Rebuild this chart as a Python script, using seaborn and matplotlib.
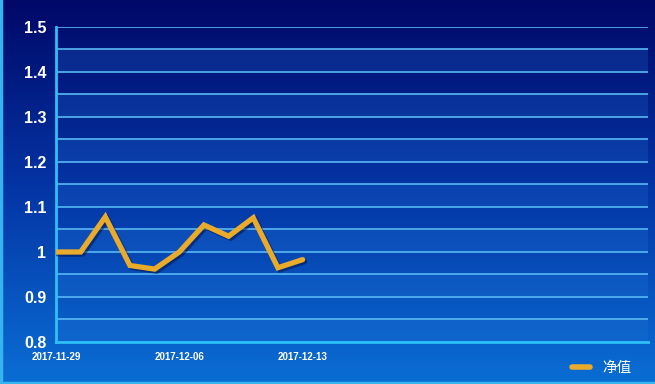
"""Net value line chart on a blue gradient"""
import numpy as np
import pandas as pd
import matplotlib
matplotlib.use("Agg")
import matplotlib.pyplot as plt
import matplotlib.patheffects as pe
from matplotlib.colors import LinearSegmentedColormap
from matplotlib.lines import Line2D
import seaborn as sns

dates = ["2017-11-29", "2017-11-30", "2017-12-01", "2017-12-04", "2017-12-05",
         "2017-12-06", "2017-12-07", "2017-12-08", "2017-12-11", "2017-12-12",
         "2017-12-13"]
net_value = [1.0, 1.0, 1.078, 0.97, 0.962, 1.0, 1.06, 1.035, 1.076, 0.965, 0.983]
series_name = "净值"
y_ticks = [0.8, 0.9, 1.0, 1.1, 1.2, 1.3, 1.4, 1.5]
y_labels = ["0.8", "0.9", "1", "1.1", "1.2", "1.3", "1.4", "1.5"]

df = pd.DataFrame({"idx": range(len(dates)), "date": dates, "value": net_value})

sns.set_style("white")
plt.rcParams["font.family"] = ["Liberation Sans", "DejaVu Sans"]

fig = plt.figure(figsize=(6.55, 3.84), dpi=100)

# gradient background for the whole figure
bg_cmap = LinearSegmentedColormap.from_list("bg", ["#000868", "#0436a6", "#0a6ed4"])
bg = fig.add_axes([0, 0, 1, 1], zorder=-10)
bg.imshow(np.linspace(0, 1, 256).reshape(-1, 1), aspect="auto", cmap=bg_cmap,
          extent=[0, 1, 0, 1], origin="upper")
bg.set_axis_off()
# light frame on left and bottom edge
fig.add_artist(Line2D([0.002, 0.002], [0, 1], color="#35b4f0", lw=2.5))
fig.add_artist(Line2D([0, 1], [0.003, 0.003], color="#35b4f0", lw=2.5))

ax = fig.add_axes([0.0855, 0.1094, 0.9035, 0.8203])
ax.patch.set_alpha(0)

# alternating bands and grid lines every 0.05
edges = np.round(np.arange(0.8, 1.5001, 0.05), 2)
for i, lo in enumerate(edges[:-1]):
    if i % 2 == 0:
        ax.axhspan(lo, lo + 0.05, color="#2a7fe0", alpha=0.2, lw=0, zorder=0)
for e in edges[1:]:
    ax.axhline(e, color="#58b8f4", lw=1.2, zorder=1)

sns.lineplot(data=df, x="idx", y="value", ax=ax, color="#eaab2a", lw=3.8,
             zorder=5, solid_capstyle="round", solid_joinstyle="miter",
             path_effects=[pe.SimpleLineShadow(offset=(1.5, -1.5), alpha=0.5,
                                               shadow_color="#001040"),
                           pe.Normal()])

ax.set_xlim(0, 24)
ax.set_ylim(0.8, 1.5)
ax.set_xticks([0, 5, 10, 15, 20])
ax.set_xticklabels([dates[0], dates[5], dates[10], "", ""])
ax.set_yticks(y_ticks)
ax.set_yticklabels(y_labels)
ax.set_xlabel("")
ax.set_ylabel("")

for s in ["top", "right"]:
    ax.spines[s].set_visible(False)
for s in ["left", "bottom"]:
    ax.spines[s].set_color("#2ec0f8")
    ax.spines[s].set_linewidth(2)
ax.tick_params(axis="y", colors="#2ec0f8", length=5, width=1.5, pad=2,
               labelcolor="white", labelsize=11.5)
ax.tick_params(axis="x", colors="#2ec0f8", length=5, width=1.5, pad=2.5,
               labelcolor="white", labelsize=7)
for lab in ax.get_yticklabels() + ax.get_xticklabels():
    lab.set_fontweight("bold")

handle = Line2D([], [], color="#eaab2a", lw=4, solid_capstyle="round")
leg = fig.legend([handle], [series_name], loc="lower right",
                 bbox_to_anchor=(0.985, -0.01), frameon=False, handlelength=1.2,
                 handletextpad=0.9, prop={"family": ["Noto Sans CJK SC", "DejaVu Sans"],
                                          "size": 10.5})
for t in leg.get_texts():
    t.set_color("white")

fig.savefig("out.png", dpi=100)
